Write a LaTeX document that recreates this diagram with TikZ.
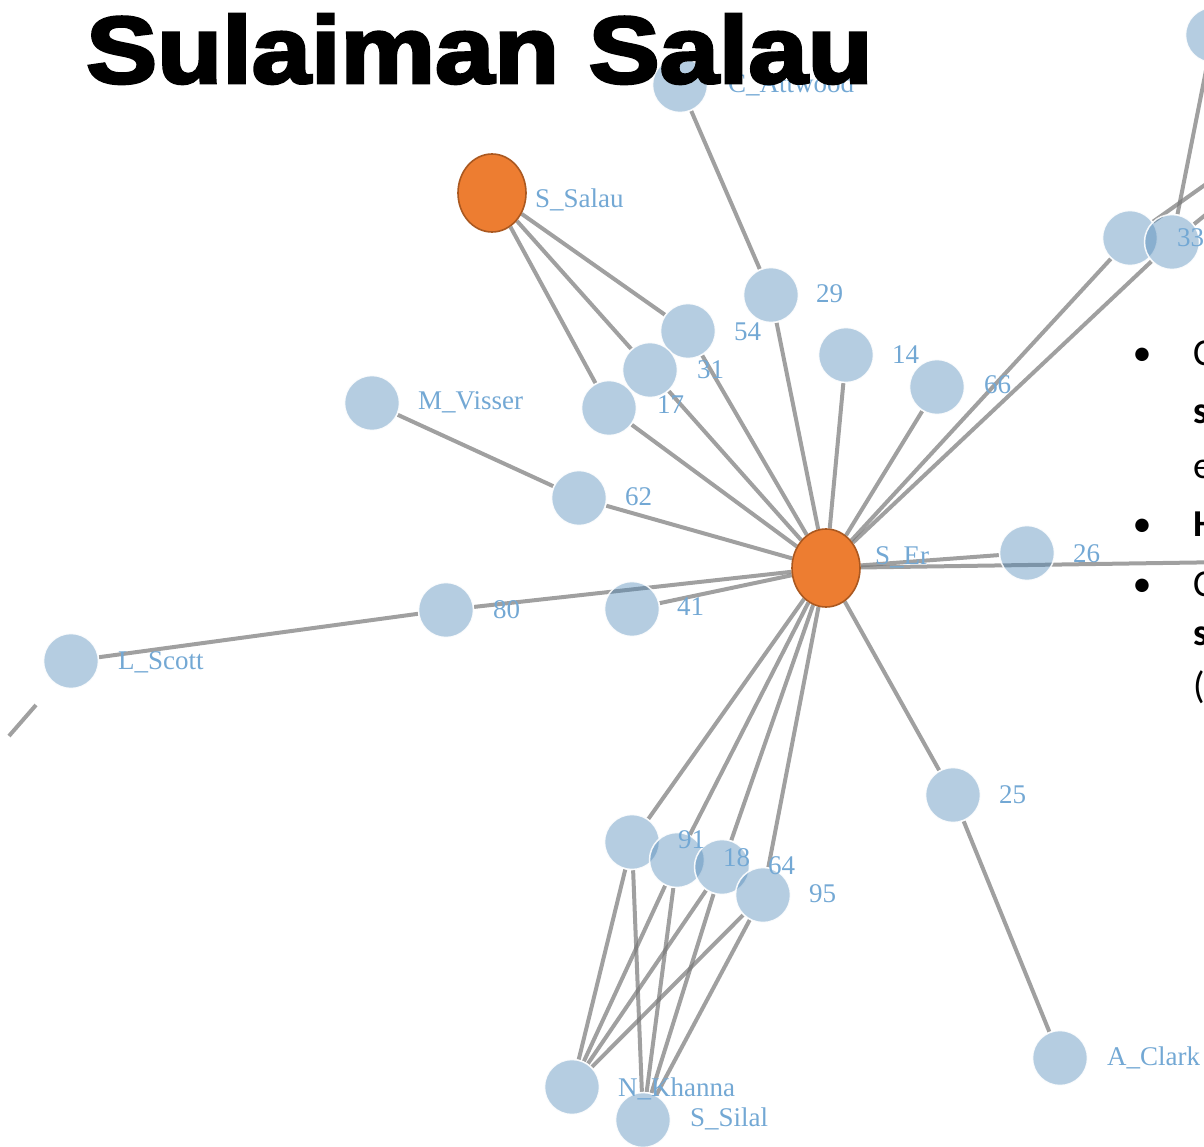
\documentclass[tikz,border=0pt]{standalone}
\usepackage{fontspec}
\usetikzlibrary{shapes.geometric}
\newfontfamily\titlefont{Liberation Sans}[FakeBold=3]
\newfontfamily\lblfont{Liberation Serif}
\newfontfamily\bulletfont{Carlito}
\definecolor{nodeblue}{RGB}{70,130,180}
\definecolor{lblblue}{RGB}{115,168,212}
\definecolor{hub}{RGB}{237,125,49}
\definecolor{hubrim}{RGB}{170,88,32}
\definecolor{edgegray}{RGB}{120,120,120}
\pgfdeclarelayer{edges}
\pgfsetlayers{edges,main}
\begin{document}
\begin{tikzpicture}[x=1pt,y=-1pt,
  person/.style={circle,minimum size=55pt,inner sep=0pt,fill=nodeblue,fill opacity=0.4,draw=white,draw opacity=0.9,line width=1.5pt},
  hubnode/.style={ellipse,minimum width=68pt,minimum height=78pt,inner sep=0pt,fill=hub,draw=hubrim,line width=1.6pt},
  link/.style={draw=edgegray,draw opacity=0.7,line width=4pt},
  tag/.style={anchor=west,inner sep=0pt,text=lblblue,font=\lblfont\fontsize{27}{27}\selectfont},
  bul/.style={anchor=base west,inner sep=0pt,font=\bulletfont\fontsize{38}{40}\selectfont}
]
\useasboundingbox (0,0) rectangle (1204,1147);
\clip (0,0) rectangle (1204,1147);

% people
\node[person] (catt) at (680,85) {};
\node[person] (ntop) at (1213,35) {};
\node[person] (n33a) at (1130,238) {};
\node[person] (n33b) at (1172,242) {};
\node[hubnode] (ssal) at (492,193) {};
\node[person] (n29) at (771,295) {};
\node[person] (n54) at (688,331) {};
\node[person] (n31) at (650,370) {};
\node[person] (n17) at (609,408) {};
\node[person] (n14) at (846,355) {};
\node[person] (n66) at (937,387) {};
\node[person] (mvis) at (372,403) {};
\node[person] (n62) at (579,498) {};
\node[hubnode] (ser) at (826,568) {};
\node[person] (n26) at (1027,553) {};
\node[person] (n80) at (446,610) {};
\node[person] (n41) at (632,609) {};
\node[person] (lsc) at (71,661) {};
\node[person] (n25) at (953,795) {};
\node[person] (acl) at (1060,1058) {};
\node[person] (n91) at (632,842) {};
\node[person] (n18) at (677,860) {};
\node[person] (n64) at (722,867) {};
\node[person] (n95) at (763,895) {};
\node[person] (nkh) at (572,1087) {};
\node[person] (ssil) at (643,1120) {};

% loose ends running off the sheet
\coordinate (offA) at (1240,160);
\coordinate (offB) at (1230,195);
\coordinate (offR) at (1230,562);
\coordinate (offL1) at (36,705);
\coordinate (offL2) at (9,736);

% links
\begin{pgfonlayer}{edges}
\draw[link] (catt) -- (n29);
\draw[link] (n29) -- (ser);
\draw[link] (ssal) -- (n54);
\draw[link] (ssal) -- (n31);
\draw[link] (ssal) -- (n17);
\draw[link] (ser) -- (n54);
\draw[link] (ser) -- (n31);
\draw[link] (ser) -- (n17);
\draw[link] (ser) -- (n14);
\draw[link] (ser) -- (n66);
\draw[link] (ser) -- (n33a);
\draw[link] (ser) -- (n33b);
\draw[link] (n33a) -- (offA);
\draw[link] (n33b) -- (offB);
\draw[link] (n33b) -- (ntop);
\draw[link] (mvis) -- (n62);
\draw[link] (n62) -- (ser);
\draw[link] (ser) -- (n26);
\draw[link] (ser) -- (offR);
\draw[link] (ser) -- (n80);
\draw[link] (n80) -- (lsc);
\draw[link] (offL1) -- (offL2);
\draw[link] (ser) -- (n41);
\draw[link] (ser) -- (n25);
\draw[link] (n25) -- (acl);
\draw[link] (ser) -- (n91);
\draw[link] (ser) -- (n18);
\draw[link] (ser) -- (n64);
\draw[link] (ser) -- (n95);
\foreach \a in {n91,n18,n64,n95}{
  \draw[link] (\a) -- (nkh);
  \draw[link] (\a) -- (ssil);
}
\end{pgfonlayer}

% labels
\node[tag] at (728,85) {C\_Attwood};
\node[tag] at (535,200) {S\_Salau};
\node[tag] at (816,294) {29};
\node[tag] at (734,332) {54};
\node[tag] at (697,370) {31};
\node[tag] at (657,405) {17};
\node[tag] at (892,355) {14};
\node[tag] at (984,385) {66};
\node[tag] at (418,402) {M\_Visser};
\node[tag] at (625,497) {62};
\node[tag] at (875,557) {S\_Er};
\node[tag] at (1073,554) {26};
\node[tag] at (493,610) {80};
\node[tag] at (677,607) {41};
\node[tag] at (118,662) {L\_Scott};
\node[tag] at (999,795) {25};
\node[tag] at (1107,1058) {A\_Clark};
\node[tag] at (678,840) {91};
\node[tag] at (723,858) {18};
\node[tag] at (768,866) {64};
\node[tag] at (809,894) {95};
\node[tag] at (618,1089) {N\_Khanna};
\node[tag] at (690,1119) {S\_Silal};
\node[tag] at (1177,238) {33};

% side notes
\node[bul,anchor=base] at (1142,366) {•};
\node[bul,anchor=base] at (1142,536) {•};
\node[bul,anchor=base] at (1142,596) {•};
\node[bul] at (1193,366) {C};
\node[bul] at (1193,423) {\bfseries s};
\node[bul] at (1193,478) {e};
\node[bul] at (1193,536) {\bfseries H};
\node[bul] at (1193,596) {C};
\node[bul] at (1193,645) {\bfseries s};
\node[bul] at (1193,698) {(};

% heading
\node[anchor=base west,inner sep=0pt,font=\titlefont\bfseries\fontsize{95}{100}\selectfont] (heading) at (86,83) {\scalebox{1.12}[1]{Sulaiman Salau}};
\end{tikzpicture}
\end{document}
